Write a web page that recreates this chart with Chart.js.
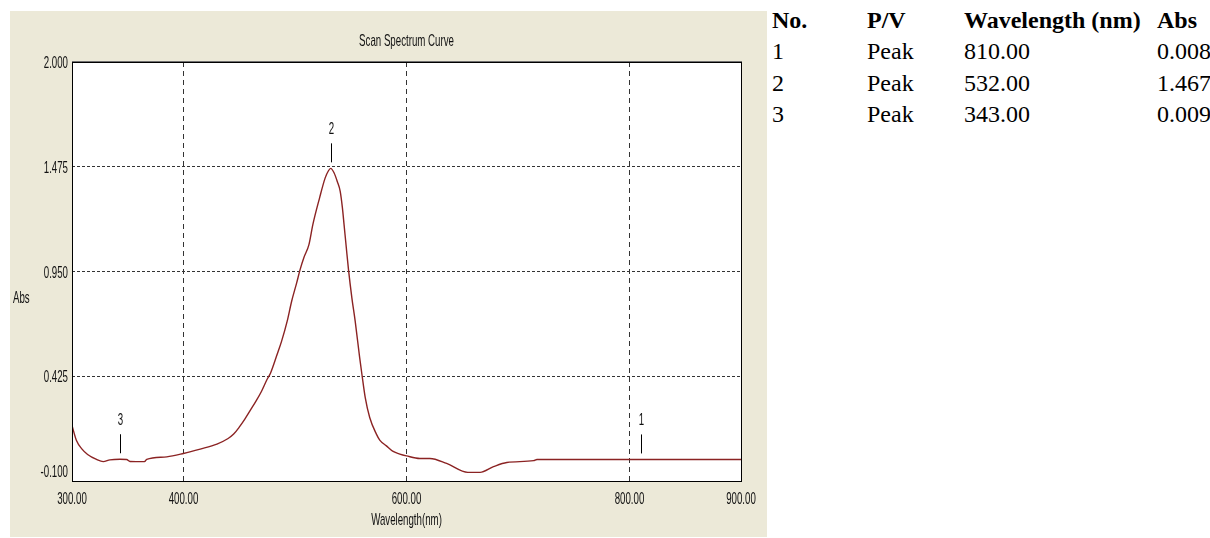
<!DOCTYPE html>
<html>
<head>
<meta charset="utf-8">
<script src="https://cdn.jsdelivr.net/npm/chart.js@4.4.0/dist/chart.umd.min.js"></script>
<style>
    body { margin: 0; background: #fff; width: 1210px; height: 538px; position: relative; overflow: hidden; }
    #panel { position: absolute; left: 10px; top: 11px; width: 757px; height: 526px; background: #ece9d8; }
    .celda { position: absolute; font-family: 'Liberation Serif', 'Times New Roman', serif; font-size: 24px; line-height: 24px; color: #000; white-space: nowrap; }
    .cab { font-weight: bold; }
</style>
</head>
<body>
<div id="panel"><canvas id="espectro" width="757" height="526"></canvas></div>
<div id="tabla"></div>
<script>
// ================== DATOS ==================

const longitudes = [300, 304, 309, 314, 322, 328, 334, 343, 349, 352, 365, 367, 385, 400, 415, 430, 440, 445, 450, 455,
    460, 465, 470, 475, 478, 484, 488, 493, 497, 501.5, 504.5, 508, 512.5, 516, 522, 527, 530, 532, 535, 538,
    540.5, 542.5, 544, 546, 548, 551, 554, 558, 560, 563, 567, 573, 576, 582, 588, 594, 600, 612, 621, 636,
    655, 666, 678, 690, 714, 717, 900];
const absorbancia = [0.178, 0.103, 0.060, 0.033, 0.008, -0.003, 0.006, 0.009, 0.008, -0.002, -0.003, 0.008, 0.021, 0.038, 0.060, 0.085, 0.113, 0.135, 0.170, 0.210,
    0.255, 0.300, 0.350, 0.410, 0.440, 0.535, 0.601, 0.701, 0.801, 0.893, 0.958, 1.020, 1.085, 1.185, 1.318, 1.418, 1.455, 1.467, 1.445, 1.400,
    1.353, 1.270, 1.185, 1.070, 0.958, 0.818, 0.700, 0.518, 0.435, 0.318, 0.218, 0.135, 0.105, 0.076, 0.048, 0.035, 0.026, 0.013, 0.013, -0.012,
    -0.057, -0.057, -0.028, -0.007, 0.002, 0.008, 0.008];

const picoNo = [1, 2, 3];
const picoTipo = ['Peak', 'Peak', 'Peak'];
const picoLongitud = [810, 532, 343];
const picoAbs = [0.008, 1.467, 0.009];

const ticksX = [300, 400, 600, 800, 900];
const ticksY = [-0.100, 0.425, 0.950, 1.475, 2.000];

// texto estrecho como el del equipo
const fuente = "17px 'Liberation Sans', Arial, sans-serif";
const estrecho = 0.57;

function texto(ctx, t, x, y, align) {
    ctx.save();
    ctx.translate(x, y);
    ctx.scale(estrecho, 1);
    ctx.font = fuente;
    ctx.fillStyle = '#111';
    ctx.textAlign = align || 'center';
    ctx.textBaseline = 'middle';
    ctx.fillText(t, 0, 0);
    ctx.restore();
}

// ================== PLUGIN: fondo, marco, textos ==================

const extras = {
    id: 'extras',
    beforeDraw(chart) {
        const { ctx, chartArea: a } = chart;
        ctx.save();
        ctx.fillStyle = '#fff';
        ctx.fillRect(a.left, a.top, a.right - a.left, a.bottom - a.top);
        ctx.restore();
    },
    afterDatasetsDraw(chart) {
        const { ctx, chartArea: a, scales } = chart;
        ctx.save();
        // marcas de picos
        ctx.strokeStyle = '#000';
        ctx.lineWidth = 1;
        picoNo.forEach((n, i) => {
            const px = Math.round(scales.x.getPixelForValue(picoLongitud[i])) + 0.5;
            const py = scales.y.getPixelForValue(picoAbs[i]);
            ctx.beginPath();
            ctx.moveTo(px, py - 25);
            ctx.lineTo(px, py - 6);
            ctx.stroke();
            texto(ctx, String(n), px, py - 39);
        });
        // marco
        ctx.strokeStyle = '#000';
        ctx.strokeRect(a.left + 0.5, a.top + 0.5, a.right - a.left, a.bottom - a.top);
        ctx.strokeStyle = '#707070';
        ctx.beginPath();
        ctx.moveTo(a.left, a.top - 0.5);
        ctx.lineTo(a.right + 1, a.top - 0.5);
        ctx.stroke();
        ctx.restore();

        // etiquetas de ejes
        scales.x.ticks.forEach(t => {
            texto(ctx, t.value.toFixed(2), scales.x.getPixelForValue(t.value), a.bottom + 18);
        });
        scales.y.ticks.forEach(t => {
            const py = Math.min(scales.y.getPixelForValue(t.value) + 1.5, a.bottom - 9);
            texto(ctx, t.value.toFixed(3), a.left - 4, py, 'right');
        });
        texto(ctx, 'Scan Spectrum Curve', (a.left + a.right) / 2, 30);
        texto(ctx, 'Wavelength(nm)', (a.left + a.right) / 2, a.bottom + 39);
        texto(ctx, 'Abs', 3, 287, 'left');
    }
};

// ================== GRÁFICO ==================

const ctx = document.getElementById('espectro');

const esBorde = (valor, lista) => valor === lista[0] || valor === lista[lista.length - 1];

new Chart(ctx, {
    type: 'line',
    data: {
        datasets: [{
            data: longitudes.map((l, i) => ({ x: l, y: absorbancia[i] })),
            borderColor: '#8b2323',
            borderWidth: 1.4,
            pointRadius: 0,
            cubicInterpolationMode: 'monotone',
            fill: false
        }]
    },
    options: {
        responsive: false,
        animation: false,
        layout: { padding: { top: 51, right: 26, left: 0, bottom: 0 } },
        plugins: {
            legend: { display: false },
            tooltip: { enabled: false }
        },
        scales: {
            x: {
                type: 'linear',
                min: 300,
                max: 900,
                afterBuildTicks: s => { s.ticks = ticksX.map(v => ({ value: v })); },
                afterFit: s => { s.height = 56; },
                grid: {
                    drawTicks: false,
                    color: c => esBorde(c.tick.value, ticksX) ? 'rgba(0,0,0,0)' : '#333',
                    lineWidth: 1
                },
                border: { display: false, dash: [5, 4] },
                ticks: { display: false }
            },
            y: {
                min: -0.1,
                max: 2.0,
                afterBuildTicks: s => { s.ticks = ticksY.map(v => ({ value: v })); },
                afterFit: s => { s.width = 62; },
                grid: {
                    drawTicks: false,
                    color: c => esBorde(c.tick.value, ticksY) ? 'rgba(0,0,0,0)' : '#333',
                    lineWidth: 1
                },
                border: { display: false, dash: [3, 2] },
                ticks: { display: false }
            }
        }
    },
    plugins: [extras]
});

// ================== TABLA DE PICOS ==================

const tabla = document.getElementById('tabla');
const columnas = [772, 867, 964, 1157];
const filasTop = [8, 39, 71, 102];

function celda(txt, x, y, cab) {
    const d = document.createElement('div');
    d.className = 'celda' + (cab ? ' cab' : '');
    d.style.left = x + 'px';
    d.style.top = y + 'px';
    d.textContent = txt;
    tabla.appendChild(d);
}

['No.', 'P/V', 'Wavelength (nm)', 'Abs'].forEach((t, j) => celda(t, columnas[j], filasTop[0], true));
picoNo.forEach((n, i) => {
    celda(String(n), columnas[0], filasTop[i + 1]);
    celda(picoTipo[i], columnas[1], filasTop[i + 1]);
    celda(picoLongitud[i].toFixed(2), columnas[2], filasTop[i + 1]);
    celda(picoAbs[i].toFixed(3), columnas[3], filasTop[i + 1]);
});
</script>
</body>
</html>
